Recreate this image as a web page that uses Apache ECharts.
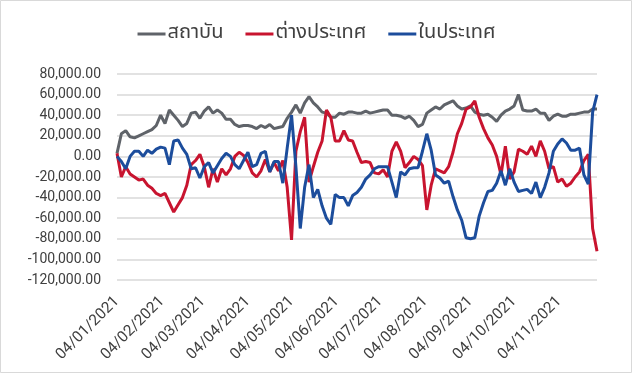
<!DOCTYPE html>
<html>
<head>
<meta charset="utf-8">
<script src="https://cdn.jsdelivr.net/npm/echarts@6/dist/echarts.min.js"></script>
<style>
html,body{margin:0;padding:0;background:#fff;}
#chart{width:633px;height:386px;}
</style>
</head>
<body>
<div id="chart"></div>
<script>
// Series names (legend)
const seriesNames = ['สถาบัน', 'ต่างประเทศ', 'ในประเทศ'];

// Sample dates (every 3 calendar days)
const dates = [
'2021-01-04','2021-01-07','2021-01-10','2021-01-13','2021-01-16','2021-01-19','2021-01-22','2021-01-25','2021-01-28','2021-01-31',
'2021-02-03','2021-02-06','2021-02-09','2021-02-12','2021-02-15','2021-02-18','2021-02-21','2021-02-24','2021-02-27','2021-03-02',
'2021-03-05','2021-03-08','2021-03-11','2021-03-14','2021-03-17','2021-03-20','2021-03-23','2021-03-26','2021-03-29','2021-04-01',
'2021-04-04','2021-04-07','2021-04-10','2021-04-13','2021-04-16','2021-04-19','2021-04-22','2021-04-25','2021-04-28','2021-05-01',
'2021-05-04','2021-05-07','2021-05-10','2021-05-13','2021-05-16','2021-05-19','2021-05-22','2021-05-25','2021-05-28','2021-05-31',
'2021-06-03','2021-06-06','2021-06-09','2021-06-12','2021-06-15','2021-06-18','2021-06-21','2021-06-24','2021-06-27','2021-06-30',
'2021-07-03','2021-07-06','2021-07-09','2021-07-12','2021-07-15','2021-07-18','2021-07-21','2021-07-24','2021-07-27','2021-07-30',
'2021-08-02','2021-08-05','2021-08-08','2021-08-11','2021-08-14','2021-08-17','2021-08-20','2021-08-23','2021-08-26','2021-08-29',
'2021-09-01','2021-09-04','2021-09-07','2021-09-10','2021-09-13','2021-09-16','2021-09-19','2021-09-22','2021-09-25','2021-09-28',
'2021-10-01','2021-10-04','2021-10-07','2021-10-10','2021-10-13','2021-10-16','2021-10-19','2021-10-22','2021-10-25','2021-10-28',
'2021-10-31','2021-11-03','2021-11-06','2021-11-09','2021-11-12','2021-11-15','2021-11-18','2021-11-21','2021-11-24','2021-11-27',
'2021-11-30'
];

// Values in thousands
const institution = [
3,22,25,19,18,20,22,24,26,30,
40,32,45,40,35,29,32,42,43,37,
44,48,42,45,42,36,36,31,29,30,
30,29,27,30,28,31,27,28,29,37,
43,50,42,52,58,52,48,43,42,38,
38,42,41,43,43,42,42,44,42,43,
44,45,45,40,40,39,37,39,35,29,
31,42,45,48,46,50,52,54,49,46,
47,49,43,41,40,41,38,34,40,44,
46,49,60,45,44,44,46,42,42,35,
39,41,39,39,41,41,42,43,43,46,
46
];
const foreign = [
3,-20,-10,-17,-20,-23,-22,-28,-31,-36,
-38,-36,-45,-54,-47,-40,-28,-8,-4,2,
-10,-30,-12,-25,-12,-18,-12,0,4,1,
-6,-16,-20,-14,-3,-15,-6,-14,-4,-30,
-81,5,24,38,-25,-10,4,15,45,38,
15,15,25,16,15,4,-6,-5,-6,-16,
-17,-13,-20,5,14,5,-11,-6,0,-3,
-9,-52,-28,-12,-14,-16,-10,4,22,32,
46,48,54,38,27,18,11,0,-18,10,
-22,-15,7,5,2,10,0,15,5,-12,
-10,-25,-22,-29,-26,-20,-15,-4,2,-70,
-92
];
const local = [
0,-5,-12,0,5,5,0,6,3,7,
9,8,-8,15,16,8,2,-12,-11,-21,
-10,-6,-16,-9,-2,3,0,-8,-12,-4,
4,-10,-8,3,5,-15,-5,-5,-26,8,
40,-10,-70,-30,-8,-40,-32,-48,-60,-66,
-37,-40,-40,-48,-38,-35,-30,-22,-18,-12,
-10,-10,-10,-25,-40,-15,-18,-12,-11,-11,
5,22,6,-18,-21,-26,-24,-39,-52,-62,
-79,-80,-79,-58,-45,-34,-33,-26,-14,-28,
-12,-25,-34,-33,-32,-36,-25,-40,-30,-16,
5,12,17,13,6,6,8,-18,-27,43,
60
];

const yMin = -120, yMax = 80, yStep = 20; // thousands

// full calendar of days for the date axis
const allDays = [];
(function(){
  const start = new Date(Date.UTC(2021,0,4));
  const end = new Date(Date.UTC(2021,10,30));
  for (let t = start.getTime(); t <= end.getTime(); t += 86400000) {
    allDays.push(new Date(t).toISOString().slice(0,10));
  }
})();
function toSeries(vals){
  const m = {};
  dates.forEach((d,i)=>{ m[d] = vals[i]; });
  return allDays.map(d => (d in m) ? m[d] : null);
}

const FONT = "Roboto, 'Noto Sans', sans-serif";
const THAI = "'Noto Sans Thai','Noto Sans Thai UI','Leelawadee UI',Tahoma,'Noto Sans','DejaVu Sans',sans-serif";

const chart = echarts.init(document.getElementById('chart'), null, {renderer:'canvas'});
chart.setOption({
  animation:false,
  backgroundColor:'#fff',
  graphic:[{type:'rect', shape:{x:0.5,y:0.5,width:631,height:372}, style:{fill:'none', stroke:'#d9d9d9', lineWidth:1}, silent:true}],
  legend:{
    top:19, left:'center',
    icon:'rect', itemWidth:28, itemHeight:3, itemGap:22,
    textStyle:{fontFamily:THAI, fontSize:20, color:'#404040', padding:[0,0,0,-3]},
    data:seriesNames
  },
  grid:{left:117, right:36, top:74, bottom:106},
  xAxis:{
    type:'category', data:allDays, boundaryGap:false,
    axisLine:{show:false}, axisTick:{show:false},
    splitLine:{show:false},
    axisLabel:{
      interval:function(i,v){ return v.slice(8)==='04'; },
      rotate:45, margin:19,
      fontFamily:FONT, fontSize:15.5, color:'#404040',
      formatter:function(v){ return v.slice(8)+'/'+v.slice(5,7)+'/'+v.slice(0,4); }
    }
  },
  yAxis:{
    type:'value', min:yMin, max:yMax, interval:yStep,
    axisLine:{show:false}, axisTick:{show:false},
    splitLine:{lineStyle:{color:'#d9d9d9', width:1.5}},
    axisLabel:{
      fontFamily:FONT, fontSize:14, color:'#404040', margin:16,
      formatter:function(v){ return (v*1000).toLocaleString('en-US',{minimumFractionDigits:2, maximumFractionDigits:2}); }
    }
  },
  series:[
    {name:seriesNames[0], type:'line', data:toSeries(institution), connectNulls:true, showSymbol:false, lineStyle:{width:3, color:'#5f6369'}, itemStyle:{color:'#5f6369'}},
    {name:seriesNames[1], type:'line', data:toSeries(foreign), connectNulls:true, showSymbol:false, lineStyle:{width:3, color:'#c8142f'}, itemStyle:{color:'#c8142f'}},
    {name:seriesNames[2], type:'line', data:toSeries(local), connectNulls:true, showSymbol:false, lineStyle:{width:3, color:'#1c4d9c'}, itemStyle:{color:'#1c4d9c'}}
  ]
});
</script>
</body>
</html>
